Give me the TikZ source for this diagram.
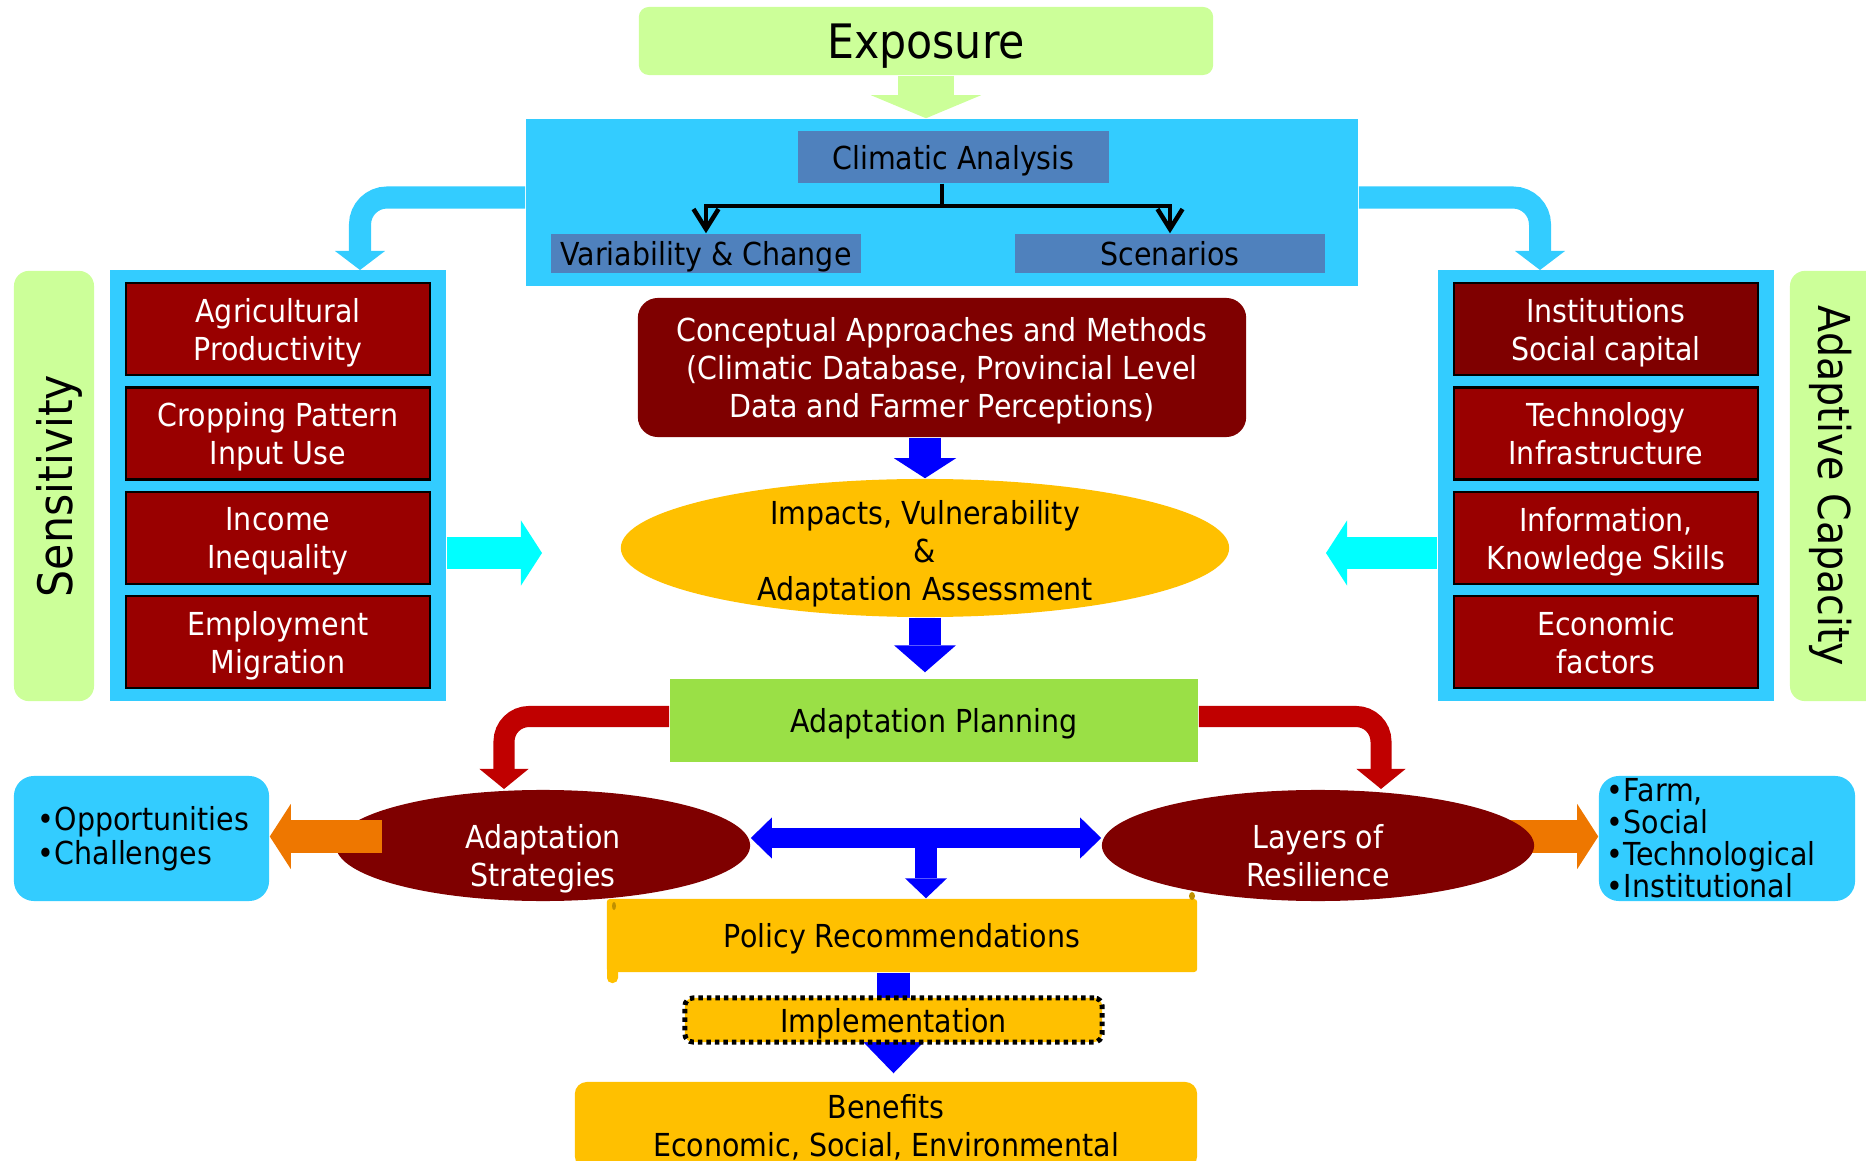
\documentclass[tikz,border=0pt]{standalone}
\usepackage{fontspec}
\setmainfont{DejaVu Sans}[FakeStretch=0.9]
\usetikzlibrary{shapes,arrows.meta,positioning,calc,backgrounds}

\definecolor{paleGreen}{HTML}{CCFF99}
\definecolor{skyBlue}{HTML}{33CCFF}
\definecolor{steelBlue}{HTML}{4F81BD}
\definecolor{boxRed}{HTML}{990000}
\definecolor{deepRed}{HTML}{7F0000}
\definecolor{goldFill}{HTML}{FFC000}
\definecolor{planGreen}{HTML}{9AE046}
\definecolor{arrowRed}{HTML}{C00000}
\definecolor{arrowOrange}{HTML}{EE7700}
\definecolor{arrowCyan}{HTML}{00FFFF}
\definecolor{arrowBlue}{HTML}{0000FF}

\begin{document}
\begin{tikzpicture}[x=0.01cm, y=-0.01cm]
  \tikzstyle{boxtext}=[font=\fontsize{9}{10.8}\selectfont, align=center, inner sep=0pt, text depth=0pt]
  \tikzstyle{factorbox}=[boxtext, rectangle, draw=black, line width=0.7pt, fill=boxRed, text=white, minimum width=3.04cm, minimum height=0.92cm]
  \tikzstyle{panel}=[rectangle, fill=skyBlue, inner sep=0pt, minimum width=3.36cm, minimum height=4.31cm]
  \tikzstyle{sidelabel}=[rectangle, rounded corners=0.15cm, fill=paleGreen, inner sep=0pt, text depth=0pt, font=\fontsize{13.5}{16}\selectfont]
  \tikzstyle{climbox}=[boxtext, rectangle, fill=steelBlue, minimum width=3.10cm, minimum height=0.39cm]
  \tikzstyle{bulletbox}=[rectangle, rounded corners=0.2cm, fill=skyBlue, inner sep=0pt, align=left, minimum width=2.55cm, minimum height=1.25cm]
  \tikzstyle{darkoval}=[ellipse, fill=deepRed, inner sep=0pt, minimum height=1.11cm]
  \tikzstyle{goldbox}=[boxtext, rectangle, fill=goldFill]

  \useasboundingbox (0,0) rectangle (1866,1161);

  % exposure and climatic analysis
  \node[boxtext, rectangle, rounded corners=0.1cm, fill=paleGreen, minimum width=5.74cm, minimum height=0.68cm, font=\fontsize{13.5}{16}\selectfont] (expo) at (926,41) {Exposure};
  \node[panel, minimum width=8.32cm, minimum height=1.67cm] (band) at (942,202.5) {};
  \node[climbox, minimum width=3.11cm, minimum height=0.52cm] (clim) at (953.5,157) {Climatic Analysis};
  \node[climbox] (var) at (706,253.5) {Variability \& Change};
  \node[climbox] (scen) at (1170,253.5) {Scenarios};
  \coordinate (split) at (942,206);

  % sensitivity
  \node[sidelabel, rotate=90, minimum width=4.30cm, minimum height=0.80cm] (senslab) at (54,486) {Sensitivity};
  \node[panel] (sensbox) at (278,485.5) {};
  \node[factorbox] (agri) at (278,329) {Agricultural\\Productivity};
  \node[factorbox] (crop) at (278,433.5) {Cropping Pattern\\Input Use};
  \node[factorbox] (income) at (278,538) {Income\\Inequality};
  \node[factorbox] (employ) at (278,642) {Employment\\Migration};

  % adaptive capacity
  \node[sidelabel, rotate=-90, minimum width=4.30cm, minimum height=0.90cm, font=\fontsize{12.5}{15}\selectfont] (adaptlab) at (1835,486) {Adaptive Capacity};
  \node[panel] (adaptbox) at (1606,485.5) {};
  \node[factorbox, fill=deepRed] (inst) at (1606,329) {Institutions\\Social capital};
  \node[factorbox] (tech) at (1606,433.5) {Technology\\Infrastructure};
  \node[factorbox] (info) at (1606,538) {Information,\\Knowledge Skills};
  \node[factorbox] (econ) at (1606,642) {Economic\\factors};

  % centre column
  \node[boxtext, rectangle, rounded corners=0.2cm, fill=deepRed, text=white, minimum width=6.08cm, minimum height=1.39cm] (concept) at (942,367.5) {Conceptual Approaches and Methods\\(Climatic Database, Provincial Level\\Data and Farmer Perceptions)};
  \node[ellipse, fill=goldFill, inner sep=0pt, minimum width=6.08cm, minimum height=1.38cm, label={[boxtext, yshift=-0.02cm]center:{Impacts, Vulnerability\\\&\\Adaptation Assessment}}] (impacts) at (925,548) {};
  \node[boxtext, rectangle, fill=planGreen, minimum width=5.28cm, minimum height=0.83cm] (plan) at (934,720.5) {Adaptation Planning};
  \node[darkoval, minimum width=4.14cm, label={[boxtext, text=white, yshift=-0.1cm]center:{Adaptation\\Strategies}}] (strat) at (543,845.5) {};
  \node[darkoval, minimum width=4.32cm, label={[boxtext, text=white, yshift=-0.1cm]center:{Layers of\\Resilience}}] (layers) at (1318,845.5) {};
  \node[bulletbox, text width=2.07cm, font=\fontsize{9}{9.8}\selectfont] (opp) at (141.5,838.5) {•Opportunities\\•Challenges};
  \node[bulletbox, minimum width=2.56cm, text width=2.40cm, font=\fontsize{9}{9.1}\selectfont] (farm) at (1727,838.5) {•Farm,\\•Social\\•Technological\\•Institutional};
  \coordinate (mid) at (926,838);
  \coordinate (orgy) at (0,836.5);

  % policy and benefits
  \node[goldbox, rounded corners=0.03cm, minimum width=5.90cm, minimum height=0.73cm] (policy) at (902,935.5) {Policy Recommendations};
  \node[goldbox, rounded corners=0.08cm, draw=black, line width=0.05cm, dash pattern=on 0.045cm off 0.04cm, minimum width=4.17cm, minimum height=0.44cm] (impl) at (893.5,1020) {Implementation};
  \node[goldbox, rounded corners=0.12cm, minimum width=6.22cm, minimum height=0.86cm] (benefit) at (886,1125) {Benefits\\Economic, Social, Environmental};
  \fill[goldFill!75!black] (614,906) ellipse [x radius=0.02cm, y radius=0.04cm];
  \fill[goldFill!75!black] (1192,896) ellipse [x radius=0.03cm, y radius=0.04cm];

  \coordinate (sensin) at (360,270);
  \coordinate (adaptin) at (1540,270);
  \coordinate (sensout) at (542,553);
  \coordinate (adaptout) at (1326,553);
  \coordinate (stratin) at (504,789);
  \coordinate (layin) at (1381,789);
  \coordinate (orgL) at (382,836.5);

  \begin{scope}[on background layer]
    \fill[goldFill, rounded corners=0.05cm] (607,950) rectangle (618,983);
    \draw[paleGreen, line width=0.56cm, -{Triangle[width=1.1cm, length=0.23cm, line width=0pt]}] (expo.south) -- (expo.south |- band.north);
    \draw[skyBlue, line width=0.22cm, rounded corners=0.27cm, -{Triangle[width=0.5cm, length=0.19cm, line width=0pt]}] ($(band.west)+(0,-5)$) -| (sensin);
    \draw[skyBlue, line width=0.22cm, rounded corners=0.27cm, -{Triangle[width=0.5cm, length=0.19cm, line width=0pt]}] ($(band.east)+(0,-5)$) -| (adaptin);
    \draw[arrowCyan, line width=0.32cm, -{Triangle[width=0.65cm, length=0.21cm, line width=0pt]}] (sensbox.east |- sensout) -- (sensout);
    \draw[arrowCyan, line width=0.32cm, -{Triangle[width=0.65cm, length=0.21cm, line width=0pt]}] (adaptbox.west |- adaptout) -- (adaptout);
    \draw[arrowBlue, line width=0.32cm, -{Triangle[width=0.62cm, length=0.2cm, line width=0pt]}] (impacts.north |- concept.south) -- (impacts.north);
    \draw[arrowBlue, line width=0.32cm, shorten >=0.06cm, -{Triangle[width=0.62cm, length=0.27cm, line width=0pt]}] (impacts.south) -- (impacts.south |- plan.north);
    \draw[arrowRed, line width=0.21cm, rounded corners=0.25cm, -{Triangle[width=0.49cm, length=0.2cm, line width=0pt]}] ($(plan.west)+(0,-4)$) -| (stratin);
    \draw[arrowRed, line width=0.21cm, rounded corners=0.25cm, -{Triangle[width=0.49cm, length=0.2cm, line width=0pt]}] ($(plan.east)+(0,-4)$) -| (layin);
    \draw[arrowBlue, line width=0.2cm, {Triangle[width=0.41cm, length=0.21cm, line width=0pt]}-{Triangle[width=0.41cm, length=0.21cm, line width=0pt]}] (strat.east |- mid) -- (layers.west |- mid);
    \draw[arrowBlue, line width=0.22cm, -{Triangle[width=0.42cm, length=0.2cm, line width=0pt]}] (mid) -- (mid |- policy.north);
    \draw[arrowBlue, line width=0.32cm, shorten >=0.08cm, -{Triangle[width=0.62cm, length=0.32cm, line width=0pt]}] (impl.north |- policy.south) -- (impl.south |- benefit.north);
    \draw[arrowOrange, line width=0.33cm, -{Triangle[width=0.65cm, length=0.21cm, line width=0pt]}] ($(layers.east |- orgy)+(-30,0)$) -- (farm.west |- orgy);
  \end{scope}

  % arrows on top
  \draw[line width=0.045cm] (clim.south -| split) -- (split);
  \draw[line width=0.045cm, -{Straight Barb[length=0.2cm, width=0.25cm]}] (split) -| (var.north);
  \draw[line width=0.045cm, -{Straight Barb[length=0.2cm, width=0.25cm]}] (split) -| (scen.north);
  \draw[arrowOrange, line width=0.33cm, -{Triangle[width=0.65cm, length=0.21cm, line width=0pt]}] (orgL) -- (opp.east |- orgL);
\end{tikzpicture}
\end{document}
